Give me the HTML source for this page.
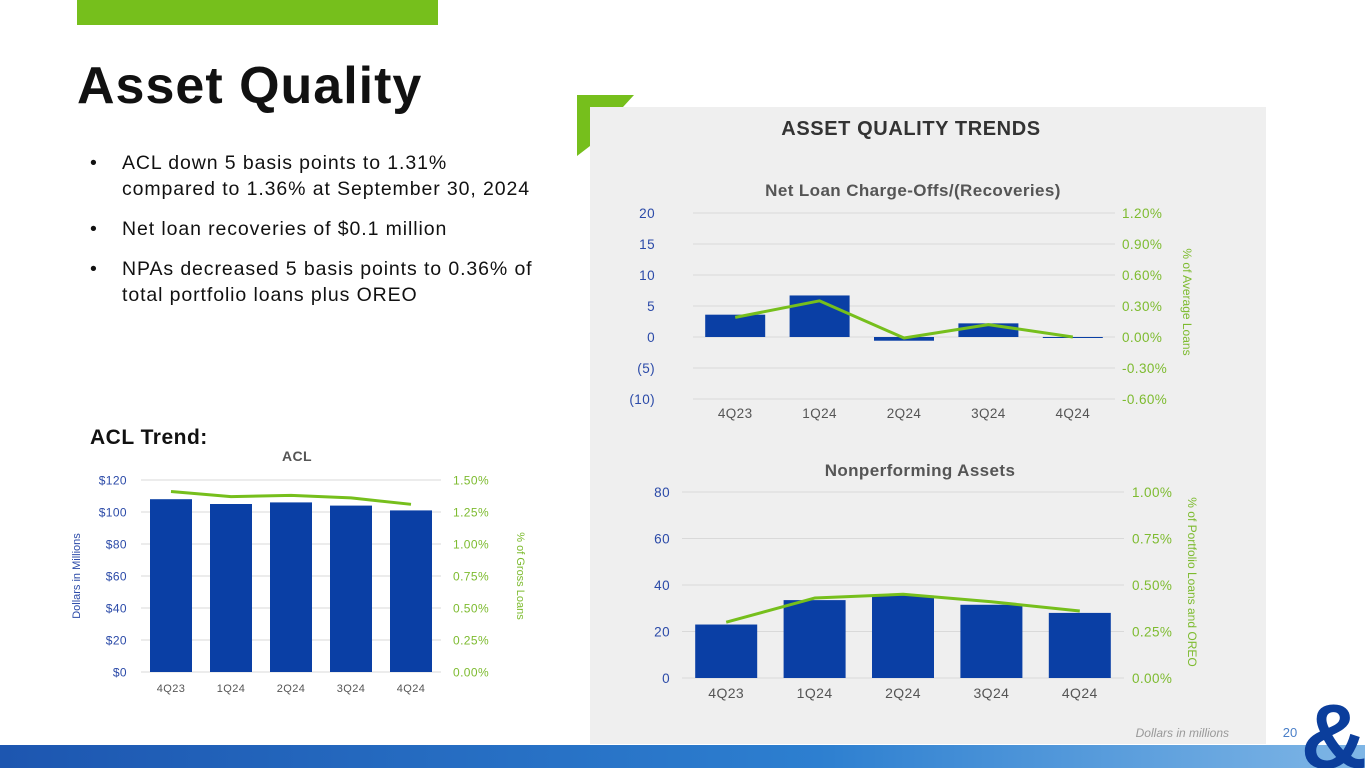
<!DOCTYPE html>
<html><head><meta charset="utf-8"><style>
body{margin:0;width:1365px;height:768px;overflow:hidden;background:#fff;font-family:"Liberation Sans",sans-serif;position:relative}
.abs{position:absolute}
</style></head><body>
<div class="abs" style="left:77px;top:0;width:361px;height:25px;background:#76bf1c"></div>
<div class="abs" style="left:77px;top:56px;font-size:52px;font-weight:bold;color:#111;letter-spacing:1px">Asset Quality</div>
<div class="abs" style="left:90px;top:150px;font-size:19.5px;color:#111;line-height:26px;letter-spacing:0.9px">
<div style="position:relative;padding-left:32px">
<span style="position:absolute;left:0">•</span>ACL down 5 basis points to 1.31%<br>compared to 1.36% at September 30, 2024</div>
<div style="position:relative;padding-left:32px;margin-top:14px"><span style="position:absolute;left:0">•</span>Net loan recoveries of $0.1 million</div>
<div style="position:relative;padding-left:32px;margin-top:14px"><span style="position:absolute;left:0">•</span>NPAs decreased 5 basis points to 0.36% of<br>total portfolio loans plus OREO</div>
</div>
<div class="abs" style="left:90px;top:426px;font-size:21px;font-weight:bold;color:#111;letter-spacing:0.5px">ACL Trend:</div>

<svg class="abs" style="left:0;top:0" width="1365" height="768" id="svg">
<rect x="590" y="107" width="676" height="637" fill="#efefef"/>
<polygon points="577,95 634,95 623,107 590,107 590,146 577,156" fill="#76bf1c"/>
<text x="911" y="135" text-anchor="middle" font-size="20" font-weight="bold" fill="#333" letter-spacing="0.6">ASSET QUALITY TRENDS</text>
<defs><linearGradient id="bg" x1="0" x2="1"><stop offset="0" stop-color="#1d56b0"/><stop offset="0.6" stop-color="#2d7fd0"/><stop offset="1" stop-color="#7fb6e6"/></linearGradient></defs>
<rect x="0" y="745" width="1365" height="23" fill="url(#bg)"/>
<text x="1229" y="737" text-anchor="end" font-size="12" font-style="italic" fill="#999">Dollars in millions</text>
<text x="1290" y="737" text-anchor="middle" font-size="13" fill="#4a7fc8">20</text>
<text x="1334" y="768" text-anchor="middle" font-size="92" font-weight="bold" fill="#0b3e9c">&amp;</text>
<g id="charts"></g>
</svg>
<script>
const cats=["4Q23","1Q24","2Q24","3Q24","4Q24"];
const aclVals=[108,105,106,104,101];
const aclPct=[1.41,1.37,1.38,1.36,1.31];
const aclLeftTicks=[0,20,40,60,80,100,120];
const aclRightTicks=[0,0.25,0.5,0.75,1.0,1.25,1.5];
const ncoVals=[3.6,6.7,-0.6,2.2,-0.1];
const ncoPct=[0.19,0.35,-0.01,0.12,0.0];
const ncoLeftTicks=[-10,-5,0,5,10,15,20];
const ncoRightTicks=[-0.6,-0.3,0,0.3,0.6,0.9,1.2];
const npaVals=[23,33.5,35.5,31.5,28];
const npaPct=[0.30,0.43,0.45,0.41,0.36];
const npaLeftTicks=[0,20,40,60,80];
const npaRightTicks=[0,0.25,0.5,0.75,1.0];

const NS="http://www.w3.org/2000/svg";
const G=document.getElementById('charts');
function mk(tag,attrs,parent,txt){const e=document.createElementNS(NS,tag);for(const k in attrs)e.setAttribute(k,attrs[k]);if(txt!==undefined)e.textContent=txt;(parent||G).appendChild(e);return e;}

function chart(o){
  const g=mk('g',{});
  
  
  const lmin=o.lt[0],lmax=o.lt[o.lt.length-1],rmin=o.rt[0],rmax=o.rt[o.rt.length-1];
  const yL=v=>o.bottom-(v-lmin)/(lmax-lmin)*(o.bottom-o.top);
  const yR=v=>o.bottom-(v-rmin)/(rmax-rmin)*(o.bottom-o.top);
  const step=(o.right-o.left)/cats.length;
  const xC=i=>o.left+step*(i+0.5);
  o.lt.forEach(t=>{
    const gl=mk('line',{x1:o.left,x2:o.right,y1:yL(t),y2:yL(t),stroke:'#d9d9d9','stroke-width':1},g);
    
    
    const tx=mk('text',{x:o.lx,y:yL(t)+o.fs*0.36,'text-anchor':'end','font-size':o.fs,fill:'#2b4aa8','letter-spacing':0.4},g,o.lf(t));
    
    
  });
  o.rt.forEach(t=>{
    const tx=mk('text',{x:o.rx,y:yR(t)+o.fs*0.36,'font-size':o.fs,fill:'#7dbb2f','letter-spacing':0.4},g,o.rf(t));
    
    
  });
  o.vals.forEach((v,i)=>{
    const y0=yL(0),y1=yL(v);
    const b=mk('rect',{x:xC(i)-o.bw/2,y:Math.min(y0,y1),width:o.bw,height:Math.max(Math.abs(y1-y0),1),fill:'#0a3fa5'},g);
    
    
    const tx=mk('text',{x:xC(i),y:o.xy,'text-anchor':'middle','font-size':o.xfs,fill:'#555','letter-spacing':0.4},g,cats[i]);
    
    
  });
  const pts=o.pct.map((p,i)=>xC(i)+','+yR(p)).join(' ');
  const ln=mk('polyline',{points:pts,fill:'none',stroke:'#76bf1c','stroke-width':3,'stroke-linejoin':'round'},g);
  
  
  const t=mk('text',{x:o.tx,y:o.ty,'text-anchor':'middle','font-size':o.tfs,'font-weight':'bold',fill:'#555','letter-spacing':0.4},g,o.title);
  
  
  const cy=(o.top+o.bottom)/2;
  const ra=mk('text',{x:o.rax,y:o.ray||cy,'text-anchor':'middle','font-size':o.afs,fill:'#7dbb2f',transform:`rotate(90 ${o.rax} ${o.ray||cy})`},g,o.rTitle);
  
  
  if(o.lTitle){
    const la=mk('text',{x:o.lax,y:cy,'text-anchor':'middle','font-size':o.afs,fill:'#2b4aa8',transform:`rotate(-90 ${o.lax} ${cy})`},g,o.lTitle);
    
    
  }
}
chart({name:'acl-chart',left:141,right:441,top:480,bottom:672,lt:aclLeftTicks,rt:aclRightTicks,vals:aclVals,pct:aclPct,bw:42,
 lx:127,rx:453,fs:12,lf:t=>'$'+t,rf:t=>t.toFixed(2)+'%',xy:692,xfs:11,title:'ACL',tx:297,ty:461,tfs:14,
 rTitle:'% of Gross Loans',rax:517,afs:11,lTitle:'Dollars in Millions',lax:80});
chart({name:'net-charge-offs-chart',left:693,right:1115,top:213,bottom:399,lt:ncoLeftTicks,rt:ncoRightTicks,vals:ncoVals,pct:ncoPct,bw:60,
 lx:655,rx:1122,fs:13.5,lf:t=>t<0?'('+(-t)+')':''+t,rf:t=>(t<0?'-':'')+Math.abs(t).toFixed(2)+'%',xy:418,xfs:13.5,
 title:'Net Loan Charge-Offs/(Recoveries)',tx:913,ty:196,tfs:17,rTitle:'% of Average Loans',rax:1183,ray:302,afs:12});
chart({name:'nonperforming-assets-chart',left:682,right:1124,top:492,bottom:678,lt:npaLeftTicks,rt:npaRightTicks,vals:npaVals,pct:npaPct,bw:62,
 lx:670,rx:1132,fs:13.5,lf:t=>''+t,rf:t=>t.toFixed(2)+'%',xy:698,xfs:14,
 title:'Nonperforming Assets',tx:920,ty:476,tfs:17,rTitle:'% of Portfolio Loans and OREO',rax:1188,ray:582,afs:12});
</script>
</body></html>
